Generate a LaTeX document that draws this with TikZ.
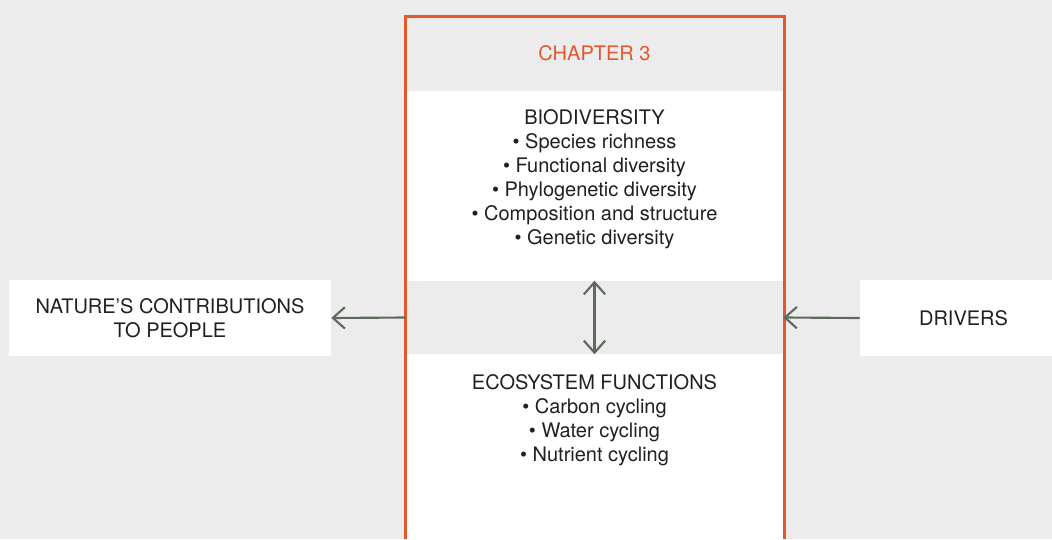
\documentclass[tikz,border=0pt]{standalone}
\usepackage{fontspec}
\setmainfont{TeX Gyre Heros}
\usetikzlibrary{positioning,arrows.meta}

\definecolor{bggray}{HTML}{ECECEC}
\definecolor{chorange}{HTML}{E2582A}
\definecolor{arrgreen}{HTML}{5E6A5E}
\definecolor{txtdark}{HTML}{231F20}

\tikzstyle{txt}     = [inner sep=0pt, align=center, text=txtdark, font=\fontsize{15}{18}\selectfont]
\tikzstyle{sidebox} = [txt, fill=white, minimum height=57pt]
\tikzstyle{band}    = [fill=bggray, inner sep=0pt, minimum width=282.75pt]
\tikzstyle{link}    = [draw=arrgreen, line width=1.6pt, -{Straight Barb[length=9pt,width=16pt]}]
\tikzstyle{dlink}   = [link, {Straight Barb[length=9pt,width=16pt]}-{Straight Barb[length=9pt,width=16pt]}]

\begin{document}
\begin{tikzpicture}[x=0.75pt,y=-0.75pt]
  \path[use as bounding box, fill=bggray] (0,0) rectangle (1052,539);
  \clip (0,0) rectangle (1052,539);
  % chapter column
  \fill[white] (405,16) rectangle (784,539);
  \node[band, minimum height=55.9pt, txt, text=chorange] (topband) at (594.5,53.25) {CHAPTER 3};
  \node[band, minimum height=54.75pt] (midband) at (594.5,317.5) {};
  \draw[chorange, line width=2.25pt] (405,539) -- (405,16) -- (784,16) -- (784,539);
  \node[txt, anchor=base] (bio) at (594.5,244) {BIODIVERSITY\\
    • Species richness\\
    • Functional diversity\\
    • Phylogenetic diversity\\
    • Composition and structure\\
    • Genetic diversity};
  \node[txt, anchor=base] (eco) at (594.5,461) {ECOSYSTEM FUNCTIONS\\
    • Carbon cycling\\
    • Water cycling\\
    • Nutrient cycling};
  % side boxes
  \node[sidebox, minimum width=241.5pt] (ncp) at (170,318) {NATURE’S CONTRIBUTIONS\\TO PEOPLE};
  \node[sidebox, minimum width=155.25pt] (drivers) at (963.5,318) {DRIVERS};
  % arrows
  \draw[dlink] (midband.north) -- (midband.south);
  \draw[link] (midband.west) -- (ncp.east);
  \draw[link] (drivers.west) -- (midband.east);
\end{tikzpicture}
\end{document}
